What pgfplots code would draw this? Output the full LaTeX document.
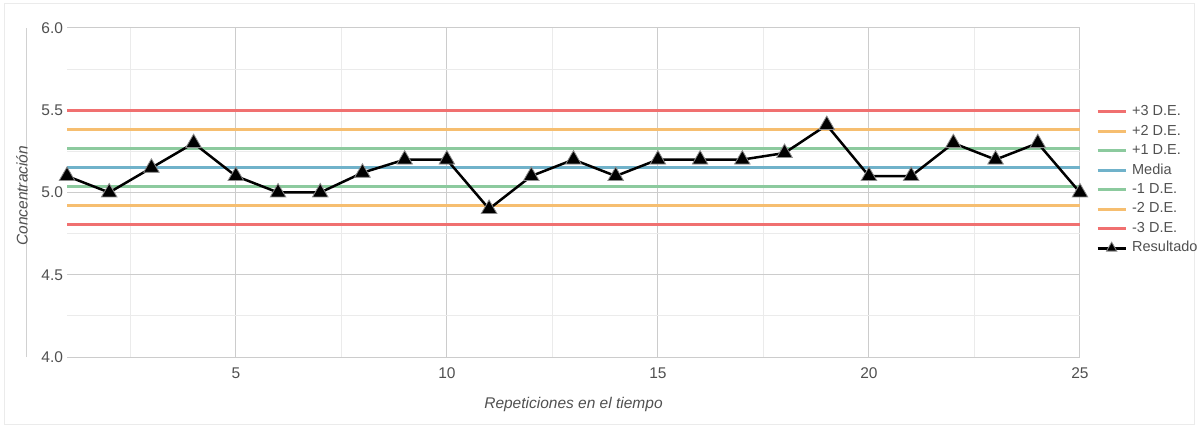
\documentclass[border=0pt]{standalone}
\usepackage{pgfplots}
\pgfplotsset{compat=1.18}
\usepackage{fontspec}
\setmainfont{Liberation Sans}
\definecolor{cred}{RGB}{240,112,112}
\definecolor{corange}{RGB}{246,190,112}
\definecolor{cgreen}{RGB}{140,202,158}
\definecolor{cblue}{RGB}{112,178,202}
\definecolor{txt}{RGB}{80,80,80}
\begin{document}
\begin{tikzpicture}[x=1pt,y=1pt]
\useasboundingbox (0,0) rectangle (1198,428);
\draw[black!8, line width=1pt] (4,4) rectangle (1194,424);
\begin{axis}[
  at={(67pt,71pt)}, anchor=south west,
  scale only axis, width=1013pt, height=329pt,
  xmin=1, xmax=25, ymin=4, ymax=6,
  xtick={5,10,15,20,25},
  minor xtick={2.5,7.5,12.5,17.5,22.5},
  ytick={4,4.5,5,5.5,6},
  minor ytick={4.25,4.75,5.25,5.75},
  grid=both,
  major grid style={black!20, line width=1pt},
  minor grid style={black!8, line width=1pt},
  axis line style={draw=none},
  major tick length=0pt, minor tick length=0pt,
  clip=false,
  ticklabel style={font=\fontsize{15.5}{17}\selectfont, text=txt},
  /pgf/number format/assume math mode=true,
  yticklabel style={xshift=-0.5pt, /pgf/number format/fixed, /pgf/number format/fixed zerofill, /pgf/number format/precision=1},
  xticklabel style={yshift=-7pt},
  xlabel={Repeticiones en el tiempo},
  ylabel={Concentración},
  label style={font=\fontsize{15.5}{17}\selectfont\itshape, text=txt},
  xlabel style={at={(axis description cs:0.5,-0.1429)}, anchor=center},
  ylabel style={at={(axis description cs:-0.0444,0.49)}, anchor=center},
  legend style={at={(axis description cs:1.0128,0.772)}, anchor=north west,
    draw=none, fill=none, font=\fontsize{14.5}{16}\selectfont, text=txt,
    nodes={inner sep=0pt, text height=10.5pt, text depth=3pt},
    row sep=5.95pt, column sep=5pt},
  legend cell align=left,
  legend image code/.code={\draw[mark repeat=2,mark phase=2,#1, line width=3pt, mark size=6pt] plot coordinates {(0pt,0pt) (14pt,0pt) (28pt,0pt)};},
]
\draw[black!18, line width=1pt] (rel axis cs:-0.0395,0) -- (rel axis cs:-0.0395,1);
\addplot[cred, line width=2.6pt] coordinates {(1,5.50) (25,5.50)};
\addlegendentry{+3 D.E.}
\addplot[corange, line width=2.6pt] coordinates {(1,5.384) (25,5.384)};
\addlegendentry{+2 D.E.}
\addplot[cgreen, line width=2.6pt] coordinates {(1,5.268) (25,5.268)};
\addlegendentry{+1 D.E.}
\addplot[cblue, line width=2.6pt] coordinates {(1,5.152) (25,5.152)};
\addlegendentry{Media}
\addplot[cgreen, line width=2.6pt] coordinates {(1,5.036) (25,5.036)};
\addlegendentry{-1 D.E.}
\addplot[corange, line width=2.6pt] coordinates {(1,4.920) (25,4.920)};
\addlegendentry{-2 D.E.}
\addplot[cred, line width=2.6pt] coordinates {(1,4.804) (25,4.804)};
\addlegendentry{-3 D.E.}
\addplot[black, line width=2.5pt, mark=triangle*, mark size=9pt,
  mark options={solid, fill=black, draw=black!45, line width=0.8pt}] coordinates {
  (1,5.10) (2,5.00) (3,5.15) (4,5.30) (5,5.10) (6,5.00) (7,5.00) (8,5.12)
  (9,5.20) (10,5.20) (11,4.90) (12,5.10) (13,5.20) (14,5.10) (15,5.20)
  (16,5.20) (17,5.20) (18,5.24) (19,5.41) (20,5.10) (21,5.10) (22,5.30)
  (23,5.20) (24,5.30) (25,5.00)};
\addlegendentry{Resultado}
\end{axis}
\end{tikzpicture}
\end{document}
